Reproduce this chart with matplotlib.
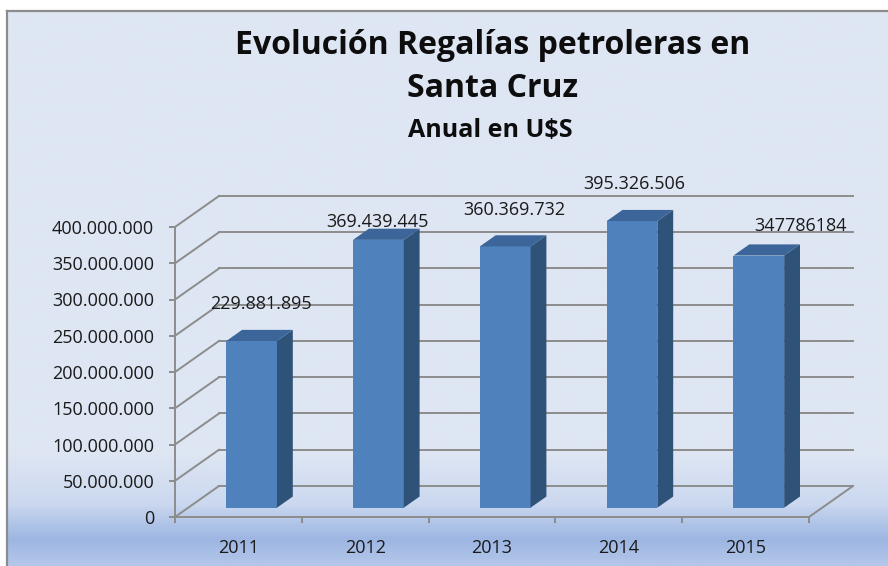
import numpy as np
import matplotlib.pyplot as plt
from matplotlib.colors import LinearSegmentedColormap
from matplotlib.patches import Polygon

# Datos
anios = ['2011', '2012', '2013', '2014', '2015']
regalias = [229881895, 369439445, 360369732, 395326506, 347786184]
etiquetas = ['229.881.895', '369.439.445', '360.369.732', '395.326.506', '347786184']
valores_eje = [0, 50000000, 100000000, 150000000, 200000000,
               250000000, 300000000, 350000000, 400000000]
etiquetas_eje = ['0', '50.000.000', '100.000.000', '150.000.000', '200.000.000',
                 '250.000.000', '300.000.000', '350.000.000', '400.000.000']

plt.rcParams['font.family'] = ['Open Sans', 'DejaVu Sans']

W, H = 888, 566
fig = plt.figure(figsize=(W / 100, H / 100), dpi=100)
fig.patch.set_facecolor('white')

# Fondo con degradado
bg = fig.add_axes([7 / W, 0, 1 - 7 / W, (H - 11) / H])
bg.set_zorder(-5)
cmap = LinearSegmentedColormap.from_list('fondo', [
    (0.0, '#dee6f3'), (0.80, '#dee6f3'), (0.89, '#cbd8ef'),
    (0.955, '#9db6e2'), (1.0, '#b3c6ea')])
bg.imshow(np.linspace(0, 1, 300).reshape(-1, 1), cmap=cmap, aspect='auto',
          extent=[0, 1, 0, 1], vmin=0, vmax=1)
bg.set_xticks([])
bg.set_yticks([])
for lado in ['right', 'bottom']:
    bg.spines[lado].set_visible(False)
for lado in ['top', 'left']:
    bg.spines[lado].set_color('#8c8c8c')
    bg.spines[lado].set_linewidth(1.6)

# Ejes principales (plano frontal)
ax = fig.add_axes([175 / W, 49 / H, 634 / W, 290 / H])
ax.patch.set_alpha(0)
ax.set_xlim(-0.5, 4.5)
ax.set_ylim(0, 400000000)

gris = '#8c8c8c'
DX = 0.347          # profundidad en unidades de categoria
DY = 42760000       # profundidad en unidades de valor

# Paredes y grilla
for v in valores_eje:
    ax.plot([-0.5, -0.5 + DX], [v, v + DY], color=gris, lw=1.4, clip_on=False, zorder=1)
    ax.plot([-0.5 + DX, 4.5 + DX], [v + DY, v + DY], color=gris, lw=1.4, clip_on=False, zorder=1)
ax.plot([4.5, 4.5 + DX], [0, DY], color=gris, lw=1.4, clip_on=False, zorder=1)

for lado in ['top', 'right']:
    ax.spines[lado].set_visible(False)
for lado in ['left', 'bottom']:
    ax.spines[lado].set_color(gris)
    ax.spines[lado].set_linewidth(1.4)

ax.set_yticks(valores_eje)
ax.set_yticklabels(etiquetas_eje, fontsize=13, color='#1a1a1a')
ax.tick_params(axis='y', length=4, width=1.4, color=gris, pad=11)
ax.set_xticks(range(len(anios)))
ax.set_xticklabels(anios, fontsize=13, color='#1a1a1a')
ax.tick_params(axis='x', length=0, pad=16)
ax.set_xticks(np.arange(-0.5, 5, 1), minor=True)
ax.tick_params(axis='x', which='minor', length=4, width=1.4, color=gris)

# Barras 3D
f = 0.3
g = 0.36
ancho = 0.40
x0 = np.arange(len(anios)) + f * DX
base = f * DY
ddx, ddy = g * DX, g * DY
barras = ax.bar(x0, regalias, width=ancho, bottom=base, color='#4f81bd', zorder=4)
for b in barras:
    b.set_clip_on(False)
for xi, v in zip(x0, regalias):
    r = xi + ancho / 2
    l = xi - ancho / 2
    ax.add_patch(Polygon([(r, base), (r, base + v), (r + ddx, base + v + ddy), (r + ddx, base + ddy)],
                         closed=True, facecolor='#2f5279', edgecolor='none', zorder=4, clip_on=False))
    ax.add_patch(Polygon([(l, base + v), (r, base + v), (r + ddx, base + v + ddy), (l + ddx, base + v + ddy)],
                         closed=True, facecolor='#3c6599', edgecolor='none', zorder=4, clip_on=False))

# Etiquetas de datos
desplaz = [(9, 37), (-1, 18), (9, 36), (2, 37), (42, 30)]
for xi, v, txt, (ox, oy) in zip(x0, regalias, etiquetas, desplaz):
    ax.annotate(txt, xy=(xi, base + v), xytext=(ox, oy), textcoords='offset pixels',
                ha='center', va='center', fontsize=13, color='#1a1a1a', zorder=6,
                annotation_clip=False)

# Titulos
fig.text(493 / W, 1 - 54 / H, 'Evolución Regalías petroleras en', ha='center', va='baseline',
         fontsize=23, fontweight='bold', color='#0d0d0d')
fig.text(493 / W, 1 - 97 / H, 'Santa Cruz', ha='center', va='baseline',
         fontsize=23, fontweight='bold', color='#0d0d0d')
fig.text(490 / W, 1 - 137 / H, 'Anual en U$S', ha='center', va='baseline',
         fontsize=18, fontweight='bold', color='#0d0d0d')

fig.savefig('out.png', dpi=100)
